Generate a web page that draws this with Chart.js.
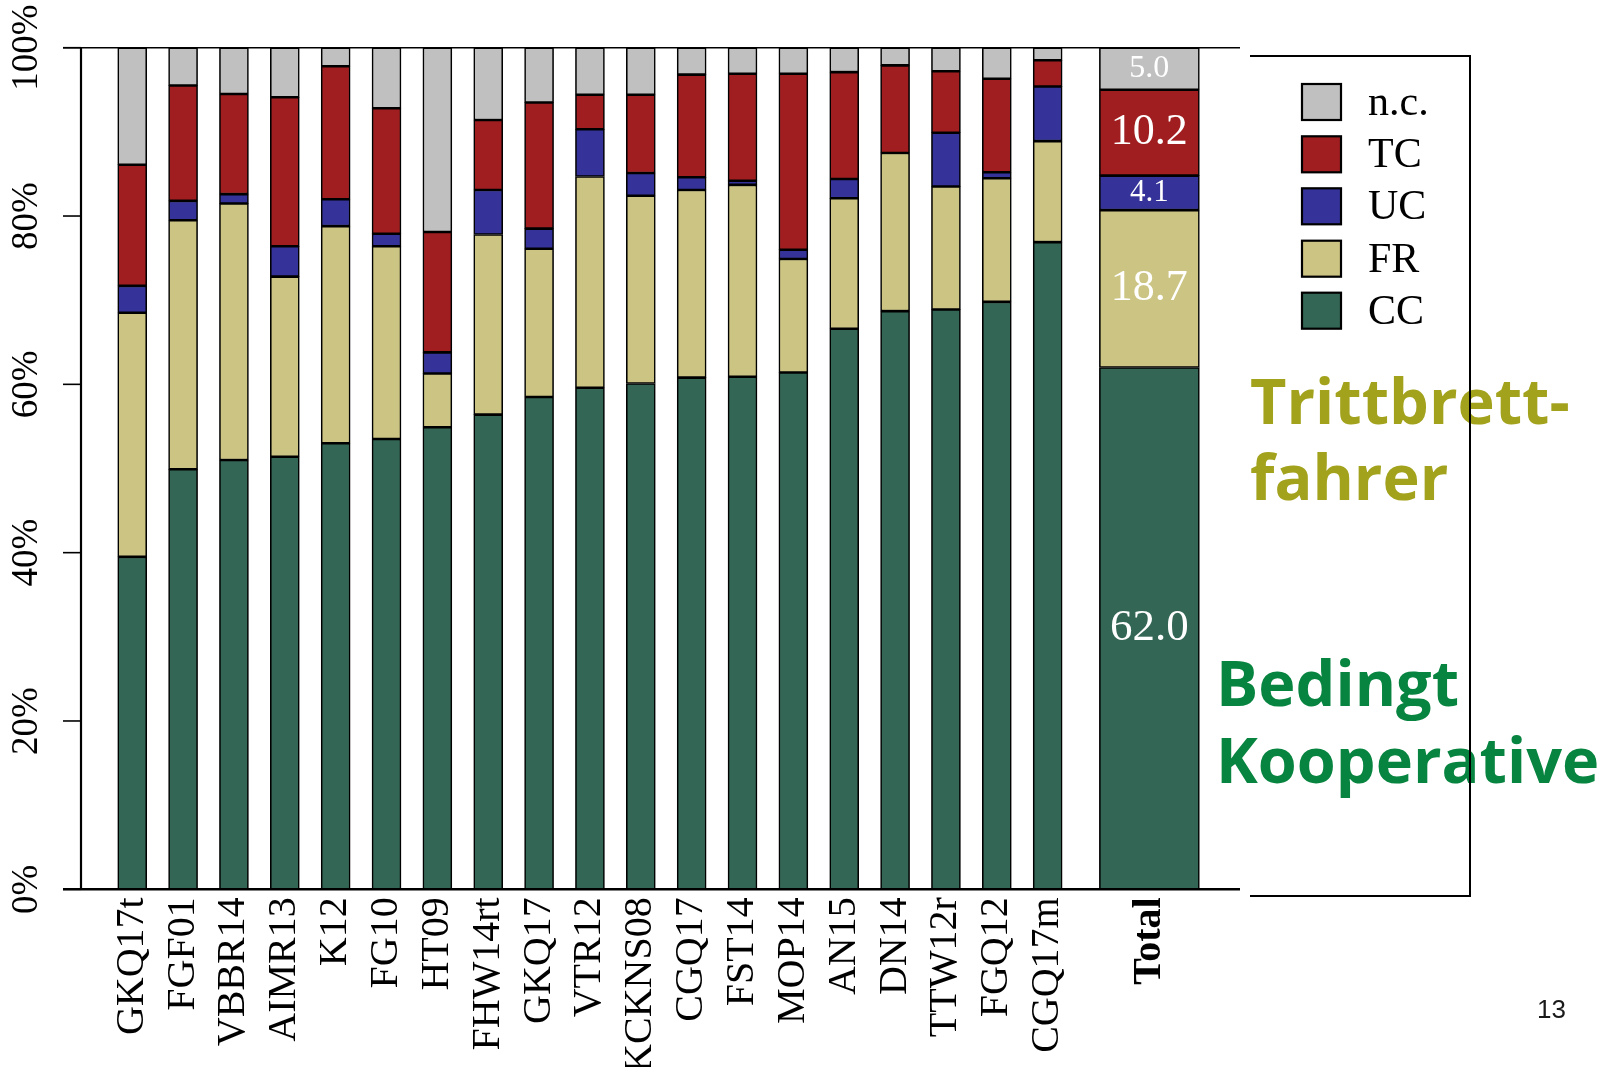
<!DOCTYPE html>
<html><head><meta charset="utf-8">
<script src="https://cdn.jsdelivr.net/npm/chart.js@4/dist/chart.umd.min.js"></script>
<style>html,body{margin:0;padding:0;background:#fff;overflow:hidden;} canvas{display:block;}</style>
</head><body>
<canvas id="c" width="1618" height="1067"></canvas>
<script>
// ---- data ----
const groups = ['GKQ17t','FGF01','VBBR14','AIMR13','K12','FG10','HT09','FHW14rt','GKQ17','VTR12','KCKNS08','CGQ17','FST14','MOP14','AN15','DN14','TTW12r','FGQ12','CGQ17m'];
const totalLabel = 'Total';
const ccVals = [39.5,49.9,51.0,51.4,53.0,53.5,54.9,56.4,58.5,59.6,60.1,60.8,60.9,61.4,66.6,68.7,68.9,69.8,76.9];
const frVals = [29.0,29.6,30.5,21.4,25.8,22.9,6.4,21.4,17.6,25.1,22.3,22.3,22.8,13.5,15.5,18.8,14.6,14.7,12.0];
const ucVals = [3.2,2.3,1.1,3.6,3.2,1.5,2.5,5.3,2.4,5.6,2.7,1.5,0.5,1.1,2.3,0.0,6.4,0.7,6.5];
const tcVals = [14.4,13.7,11.9,17.7,15.8,14.9,14.3,8.3,15.0,4.1,9.3,12.2,12.7,20.9,12.7,10.4,7.3,11.1,3.1];
const ncVals = [13.9,4.5,5.5,5.9,2.2,7.2,21.9,8.6,6.5,5.6,5.6,3.2,3.1,3.1,2.9,2.1,2.8,3.7,1.5];
const seriesNames = ['CC','FR','UC','TC','n.c.'];
const totalVals = [62.0, 18.7, 4.1, 10.2, 5.0];   // CC, FR, UC, TC, n.c.
const yTicks = [0, 20, 40, 60, 80, 100];

// ---- styles ----
const fillColors = ['#336654', '#CCC482', '#353399', '#A11E20', '#C0C0C0'];
const totalFontSizes = [45, 44, 31, 44, 32];
const serif = '"Liberation Serif", "DejaVu Serif", serif';

const seriesVals = [ccVals, frVals, ucVals, tcVals, ncVals];
const labels = [...groups, '', totalLabel];
const totalIndex = labels.length - 1;

const datasets = [];
seriesVals.forEach((arr, k) => {
  datasets.push({
    label: seriesNames[k],
    data: [...arr, null, null],
    backgroundColor: fillColors[k],
    borderColor: '#000',
    borderWidth: 1.6,
    borderSkipped: false,
    barThickness: 29
  });
});
seriesVals.forEach((arr, k) => {
  datasets.push({
    label: seriesNames[k] + ' (Total)',
    data: [...groups.map(() => null), null, totalVals[k]],
    backgroundColor: fillColors[k],
    borderColor: '#000',
    borderWidth: 1.6,
    borderSkipped: false,
    barThickness: 100,
    clip: false,
    isTotal: true,
    seriesIndex: k
  });
});

const decor = {
  id: 'decor',
  afterDraw(chart) {
    const ctx = chart.ctx;
    const ys = chart.scales.y;
    const yTop = ys.getPixelForValue(100), yBot = ys.getPixelForValue(0);
    const axisX = 81, tickL = 63, lineR = 1240;
    ctx.save();
    ctx.strokeStyle = '#000';
    ctx.lineCap = 'butt';
    // top line
    ctx.lineWidth = 1.6;
    ctx.beginPath(); ctx.moveTo(tickL, yTop); ctx.lineTo(lineR, yTop); ctx.stroke();
    // bottom line
    ctx.lineWidth = 2.6;
    ctx.beginPath(); ctx.moveTo(tickL, yBot); ctx.lineTo(lineR, yBot); ctx.stroke();
    // y axis line
    ctx.lineWidth = 2.2;
    ctx.beginPath(); ctx.moveTo(axisX, yTop); ctx.lineTo(axisX, yBot); ctx.stroke();
    // ticks + labels
    ctx.lineWidth = 1.6;
    ctx.fillStyle = '#000';
    ctx.font = '37px ' + serif;
    ctx.textAlign = 'center';
    ctx.textBaseline = 'middle';
    yTicks.forEach(v => {
      const py = ys.getPixelForValue(v);
      ctx.beginPath(); ctx.moveTo(tickL, py); ctx.lineTo(axisX, py); ctx.stroke();
      ctx.save();
      ctx.translate(27, py);
      ctx.rotate(-Math.PI / 2);
      ctx.fillText(v + '%', 0, 0);
      ctx.restore();
    });
    // total labels
    chart.data.datasets.forEach((ds, i) => {
      if (!ds.isTotal) return;
      const el = chart.getDatasetMeta(i).data[totalIndex];
      if (!el) return;
      const cy = (el.y + el.base) / 2;
      ctx.fillStyle = '#fff';
      ctx.font = totalFontSizes[ds.seriesIndex] + 'px ' + serif;
      ctx.fillText(totalVals[ds.seriesIndex].toFixed(1), el.x, cy);
    });
    // annotations
    ctx.textAlign = 'left';
    ctx.textBaseline = 'alphabetic';
    ctx.font = 'bold 63px "Open Sans", "DejaVu Sans", sans-serif';
    ctx.fillStyle = '#A3A21C';
    ctx.fillText('Trittbrett-', 1250, 424);
    ctx.fillText('fahrer', 1250, 500);
    ctx.fillStyle = '#07843F';
    ctx.fillText('Bedingt', 1216, 706);
    ctx.fillText('Kooperative', 1216, 783);
    // legend frame
    ctx.strokeStyle = '#000';
    ctx.lineWidth = 2;
    ctx.beginPath();
    ctx.moveTo(1250, 56); ctx.lineTo(1470, 56); ctx.lineTo(1470, 896); ctx.lineTo(1250, 896);
    ctx.stroke();
    // legend items (top to bottom: n.c., TC, UC, FR, CC)
    const rowY = [102, 154.3, 206.3, 258.7, 310.7];
    ctx.font = '42px ' + serif;
    for (let r = 0; r < 5; r++) {
      const k = 4 - r;
      const cy = rowY[r];
      ctx.fillStyle = fillColors[k];
      ctx.fillRect(1302, cy - 18, 39, 36);
      ctx.lineWidth = 2.2;
      ctx.strokeStyle = '#000';
      ctx.strokeRect(1302, cy - 18, 39, 36);
      ctx.fillStyle = '#000';
      ctx.fillText(seriesNames[k], 1368, cy + 13);
    }
    // page number
    ctx.font = '26px "Liberation Sans", Arial, sans-serif';
    ctx.fillStyle = '#1a1a1a';
    ctx.fillText('13', 1537, 1017.5);
    ctx.restore();
  }
};

new Chart(document.getElementById('c'), {
  type: 'bar',
  data: { labels, datasets },
  options: {
    responsive: false,
    animation: false,
    devicePixelRatio: 1,
    layout: { padding: { left: 106.8, right: 443.2, top: 47.7, bottom: 0 } },
    datasets: { bar: { categoryPercentage: 1, barPercentage: 1 } },
    plugins: { legend: { display: false }, tooltip: { enabled: false } },
    scales: {
      x: {
        stacked: true,
        offset: true,
        grid: { display: false, drawTicks: false },
        border: { display: false },
        ticks: {
          autoSkip: false,
          minRotation: 90,
          maxRotation: 90,
          padding: 8,
          color: '#000',
          font: (c) => ({ family: serif, size: 40, weight: c.index === totalIndex ? 'bold' : 'normal' })
        },
        afterFit: (s) => { s.height = 177.7; }
      },
      y: { stacked: true, min: 0, max: 100, display: false }
    }
  },
  plugins: [decor]
});
</script>
</body></html>
